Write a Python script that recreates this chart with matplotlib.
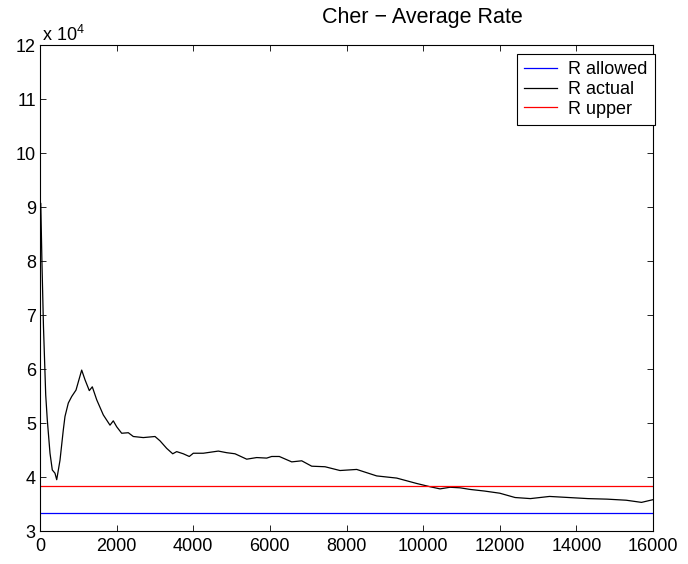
import matplotlib
matplotlib.use('Agg')
import matplotlib.pyplot as plt

plt.rcParams['font.family'] = ['Liberation Sans', 'DejaVu Sans']
plt.rcParams['mathtext.fontset'] = 'custom'
plt.rcParams['mathtext.rm'] = 'Liberation Sans'
plt.rcParams['mathtext.default'] = 'regular'

# data (values in units of 1e4)
samples = [0, 20, 50, 90, 149, 190, 261, 321, 391, 436, 522, 608, 652, 739,
           827, 940, 1088, 1175, 1287, 1365, 1480, 1652, 1827, 1913, 2002,
           2132, 2305, 2435, 2696, 3002, 3132, 3307, 3464, 3568, 3740, 3897,
           4001, 4262, 4654, 4873, 5090, 5395, 5656, 5917, 6047, 6246, 6570,
           6831, 7092, 7439, 7830, 8266, 8788, 9310, 9832, 10180, 10441,
           10701, 10962, 11224, 11600, 12000, 12400, 12800, 13300, 13800,
           14300, 14800, 15300, 15700, 16000]
r_actual = [8.2, 9.07, 8.0, 6.8, 5.52, 5.06, 4.44, 4.13, 4.07, 3.95, 4.31,
            4.87, 5.12, 5.37, 5.49, 5.61, 5.98, 5.80, 5.60, 5.67, 5.43, 5.15,
            4.96, 5.04, 4.93, 4.81, 4.82, 4.75, 4.73, 4.75, 4.67, 4.53, 4.43,
            4.47, 4.43, 4.38, 4.44, 4.44, 4.48, 4.45, 4.43, 4.33, 4.36, 4.35,
            4.38, 4.38, 4.28, 4.30, 4.20, 4.19, 4.12, 4.14, 4.02, 3.98, 3.88,
            3.82, 3.78, 3.81, 3.80, 3.77, 3.74, 3.70, 3.62, 3.60, 3.64, 3.62,
            3.60, 3.59, 3.57, 3.53, 3.58]
r_allowed = 3.34
r_upper = 3.83
labels = ['R allowed', 'R actual', 'R upper']

fs = 13

fig = plt.figure(figsize=(6.88, 5.64), dpi=100)
ax = fig.add_axes([40/688, 33/564, 613/688, 486/564])

ax.axhline(r_allowed, color='#0000ff', lw=0.9, label=labels[0])
ax.plot(samples, r_actual, color='black', lw=0.9, label=labels[1])
ax.axhline(r_upper, color='#ff0000', lw=0.9, label=labels[2])

ax.set_xlim(0, 16000)
ax.set_ylim(3, 12)
ax.set_xticks(range(0, 16001, 2000))
ax.set_yticks(range(3, 13))
ax.tick_params(direction='in', length=4.5, width=0.6, labelsize=fs,
               top=True, right=True, pad=3)
ax.tick_params(axis='x', pad=5)
for s in ax.spines.values():
    s.set_linewidth(0.8)

ax.text(0.003, 1.0, r'x 10$^{4}$', transform=ax.transAxes, fontsize=fs,
        ha='left', va='bottom')
fig.text(422/688, 1 - 17/564, 'Cher \u2212 Average Rate', fontsize=15.5,
         ha='center', va='center')

leg = ax.legend(loc='upper right', bbox_to_anchor=(655/688, 1 - 54/564),
                bbox_transform=fig.transFigure, fontsize=fs, fancybox=False,
                edgecolor='black', framealpha=1, handlelength=1.8,
                handletextpad=0.65, labelspacing=0.15, borderpad=0.4,
                borderaxespad=0)
leg.get_frame().set_linewidth(0.8)

fig.savefig('out.png', dpi=100)
